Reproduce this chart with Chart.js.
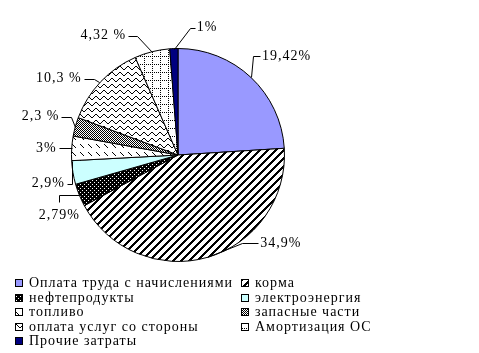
<!DOCTYPE html>
<html>
<head>
<meta charset="utf-8">
<script src="https://cdn.jsdelivr.net/npm/chart.js@4"></script>
<style>
  body { margin: 0; background: #fff; }
  #chart { display: block; }
</style>
</head>
<body>
<canvas id="chart" width="479" height="353"></canvas>
<script>
const categories = [
    "Оплата труда с начислениями",
    "корма",
    "нефтепродукты",
    "электроэнергия",
    "топливо",
    "запасные части",
    "оплата услуг со стороны",
    "Амортизация ОС",
    "Прочие затраты",
];
const shares = [19.42, 34.9, 2.79, 2.9, 3, 2.3, 10.3, 4.32, 1];
const shareLabels = ["19,42%", "34,9%", "2,79%", "2,9%", "3%", "2,3 %", "10,3 %", "4,32 %", "1%"];

// leader line points and text spot, relative to the slice's outer midpoint
const labelLayout = [
    { pts: [[0, 0], [2, -21], [9, -21]], text: [11, -21], align: "left" },
    { pts: [[0, 0], [35, -14], [51, -14]], text: [53, -14], align: "left" },
    { pts: [[0, 0], [-20, 0], [-20, 7]], text: [-20, 20], align: "center" },
    { pts: [[-1, -12], [-1, 11], [-6, 11]], text: [-8, 11], align: "right" },
    { pts: [[0, 0], [-13, 0]], text: [-15, 0], align: "right" },
    { pts: [[0, 0], [-4, -10], [-14, -10]], text: [-16, -10], align: "right" },
    { pts: [[-2, 0], [-7, -3], [-17, -3]], text: [-19, -3], align: "right" },
    { pts: [[0, 0], [-15, -16], [-24, -16]], text: [-26, -16], align: "right" },
    { pts: [[0, 0], [16, -21], [21, -21]], text: [23, -21], align: "left" },
];

const ctx = document.getElementById("chart");
const FONT = "14px 'Liberation Serif', 'Times New Roman', serif";

// pixel patterns, black on white unless noted
function pattern(w, h, isInk, ink = "#000", paper = "#fff") {
    const c = document.createElement("canvas");
    c.width = w;
    c.height = h;
    const g = c.getContext("2d");
    g.fillStyle = paper;
    g.fillRect(0, 0, w, h);
    g.fillStyle = ink;
    for (let y = 0; y < h; y++) {
        for (let x = 0; x < w; x++) {
            if (isInk(x, y)) g.fillRect(x, y, 1, 1);
        }
    }
    return ctx.getContext("2d").createPattern(c, "repeat");
}

const wave = [0, 1, 2, 3, 3, 2, 1, 0];

const fills = [
    "#9999ff",
    pattern(8, 8, (x, y) => (x + y) % 8 < 3),
    pattern(4, 4, (x, y) => !(y % 2 == 0 && (x + (y % 4 == 0 ? 0 : 2)) % 4 == 0)),
    "#ccffff",
    pattern(8, 8, (x, y) => (x - y + 16) % 8 == 0 && y % 8 < 4),
    pattern(2, 2, (x, y) => (x + y) % 2 == 0),
    pattern(8, 6, (x, y) => wave[x] == y),
    pattern(8, 8, (x, y) => (x == 0 && y % 2 == 0) || (y == 0 && x % 2 == 0)),
    "#000080",
];

const extras = {
    id: "extras",
    afterDatasetsDraw(chart) {
        const g = chart.ctx;
        const meta = chart.getDatasetMeta(0);
        g.save();
        g.font = FONT;
        g.letterSpacing = "1px";
        g.fillStyle = "#000";
        g.strokeStyle = "#000";
        g.lineWidth = 1;
        g.textBaseline = "middle";

        meta.data.forEach((arc, i) => {
            const mid = (arc.startAngle + arc.endAngle) / 2;
            const ax = arc.x + Math.cos(mid) * arc.outerRadius;
            const ay = arc.y + Math.sin(mid) * arc.outerRadius;
            const lay = labelLayout[i];
            g.beginPath();
            lay.pts.forEach(([dx, dy], k) => {
                const px = Math.round(ax + dx) + 0.5;
                const py = Math.round(ay + dy) + 0.5;
                if (k == 0) g.moveTo(px, py);
                else g.lineTo(px, py);
            });
            g.stroke();
            g.textAlign = lay.align;
            g.fillText(shareLabels[i], ax + lay.text[0], ay + lay.text[1]);
        });

        // legend in two columns
        g.textAlign = "left";
        categories.forEach((name, i) => {
            const col = i % 2;
            const row = Math.floor(i / 2);
            const bx = col == 0 ? 15 : 241;
            const by = 279 + row * 14.5;
            g.fillStyle = fills[i];
            g.fillRect(bx, Math.round(by), 7, 7);
            g.strokeRect(bx + 0.5, Math.round(by) + 0.5, 7, 7);
            g.fillStyle = "#000";
            g.fillText(name, bx + 14, Math.round(by) + 4);
        });
        g.restore();
    },
};

new Chart(ctx, {
    type: "pie",
    data: {
        labels: categories,
        datasets: [
            {
                data: shares,
                backgroundColor: fills,
                borderColor: "#000",
                borderWidth: 1,
            },
        ],
    },
    options: {
        responsive: false,
        animation: false,
        layout: {
            padding: { left: 71, right: 194, top: 48, bottom: 91 },
        },
        plugins: {
            legend: { display: false },
            tooltip: { enabled: false },
        },
    },
    plugins: [extras],
});
</script>
</body>
</html>
